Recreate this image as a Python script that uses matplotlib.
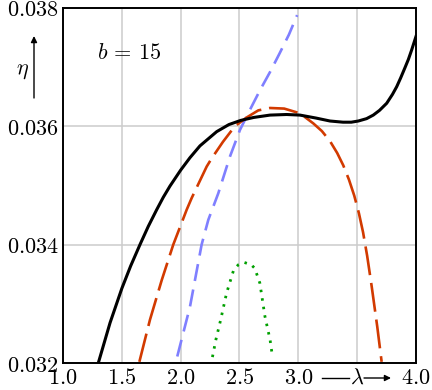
import matplotlib

matplotlib.use('Agg')
import matplotlib.pyplot as plt

plt.rcParams['mathtext.fontset'] = 'cm'
plt.rcParams['font.family'] = 'serif'
plt.rcParams['font.serif'] = ['DejaVu Serif']

# curve data (lambda, eta)
black_lam = [1.30, 1.40, 1.50, 1.575, 1.654, 1.725, 1.796, 1.852, 1.909, 2.0,
             2.079, 2.164, 2.306, 2.41, 2.51, 2.62, 2.759, 2.9, 3.014, 3.15, 3.269,
             3.38, 3.45, 3.51, 3.58, 3.637, 3.69, 3.751, 3.80, 3.836, 3.87, 3.906,
             3.935, 3.963, 4.0]
black_eta = [0.03200, 0.03268, 0.03326, 0.03364, 0.03400, 0.03431, 0.03459,
             0.03480, 0.03499, 0.03526, 0.03547, 0.03567, 0.03591, 0.03603,
             0.03610, 0.03615, 0.03619, 0.03620, 0.03619, 0.03614, 0.03609,
             0.03607, 0.03607, 0.03609, 0.03613, 0.03619, 0.03627, 0.03639,
             0.03654, 0.03667, 0.03682, 0.03699, 0.03713, 0.03729, 0.03752]

red_lam = [1.649, 1.739, 1.839, 1.937, 2.051, 2.094, 2.221, 2.264, 2.36, 2.46,
           2.561, 2.66, 2.759, 2.88, 3.014, 3.127, 3.20, 3.269, 3.33, 3.382, 3.43,
           3.475, 3.515, 3.55, 3.585, 3.623, 3.671, 3.708]
red_eta = [0.03202, 0.03273, 0.03340, 0.03400, 0.03459, 0.03479, 0.03532,
           0.03546, 0.03574, 0.03600, 0.03615, 0.03627, 0.03631, 0.03630,
           0.03622, 0.03605, 0.03592, 0.03575, 0.03555, 0.03534, 0.03510,
           0.03483, 0.03453, 0.03421, 0.03381, 0.03330, 0.03261, 0.03202]

blue_lam = [1.971, 2.079, 2.178, 2.235, 2.32, 2.419, 2.504, 2.589, 2.674, 2.76,
            2.84, 2.92, 2.99]
blue_eta = [0.03211, 0.03295, 0.03400, 0.03442, 0.03487, 0.03549, 0.03594,
            0.03628, 0.03661, 0.03692, 0.03723, 0.03755, 0.03788]

green_lam = [2.27, 2.30, 2.34, 2.39, 2.45, 2.49, 2.54, 2.60, 2.63, 2.673, 2.716,
             2.76, 2.78]
green_eta = [0.0321, 0.0324, 0.03273, 0.03318, 0.03357, 0.03366, 0.0337, 0.03366,
             0.0336, 0.03335, 0.03279, 0.03239, 0.03211]

x_ticks = [1.0, 1.5, 2.0, 2.5, 3.0, 3.5, 4.0]
x_labels = ['$1.0$', '$1.5$', '$2.0$', '$2.5$', '$3.0$', '', '$4.0$']
y_ticks = [0.032, 0.034, 0.036, 0.038]
y_labels = ['$0.032$', '$0.034$', '$0.036$', '$0.038$']

W, H = 432, 390
fig = plt.figure(figsize=(W / 100, H / 100), dpi=100)
ax = fig.add_axes([63 / W, 1 - 363 / H, (416 - 63) / W, (363 - 8) / H])

ax.plot(black_lam, black_eta, color='black', lw=2.2, zorder=5)
ax.plot(red_lam, red_eta, color='#d23a00', lw=1.9, dashes=(11, 3), zorder=4)
ax.plot(blue_lam, blue_eta, color='#7f7fff', lw=1.9, dashes=(6.5, 3.3), zorder=3)
ax.plot(green_lam, green_eta, color='#00a000', lw=2.0, dashes=(0.9, 2.2),
        dash_capstyle='butt', zorder=3)

ax.set_xlim(1.0, 4.0)
ax.set_ylim(0.032, 0.038)
ax.set_xticks(x_ticks)
ax.set_xticklabels(x_labels)
ax.set_yticks(y_ticks)
ax.set_yticklabels(y_labels)
ax.tick_params(length=0, labelsize=16, pad=3)
ax.grid(True, color='#cccccc', lw=1.1)
ax.set_axisbelow(True)
for spine in ax.spines.values():
    spine.set_linewidth(1.4)

ax.text(97 / W, 1 - 53 / H, '$b\\,=\\,15$', transform=fig.transFigure,
        fontsize=16, va='center', ha='left')

# eta axis label with upward arrow
fig.text(22 / W, 1 - 70 / H, '$\\eta$', fontsize=16, ha='center', va='center')
ax.annotate('', xy=(34 / W, 1 - 36 / H), xytext=(34 / W, 1 - 98 / H),
            xycoords='figure fraction', textcoords='figure fraction',
            arrowprops=dict(arrowstyle='-|>', color='black', lw=1.0,
                            mutation_scale=9, shrinkA=0, shrinkB=0),
            annotation_clip=False)

# lambda axis label with line and arrow
ly = 1 - 378 / H
fig.add_artist(plt.Line2D([322 / W, 349 / W], [ly, ly], color='black', lw=1.0,
                          transform=fig.transFigure))
fig.text(357 / W, ly, '$\\lambda$', fontsize=16, ha='center', va='center')
ax.annotate('', xy=(391 / W, ly), xytext=(364 / W, ly),
            xycoords='figure fraction', textcoords='figure fraction',
            arrowprops=dict(arrowstyle='-|>', color='black', lw=1.0,
                            mutation_scale=9, shrinkA=0, shrinkB=0),
            annotation_clip=False)

fig.savefig('out.png', dpi=100)
